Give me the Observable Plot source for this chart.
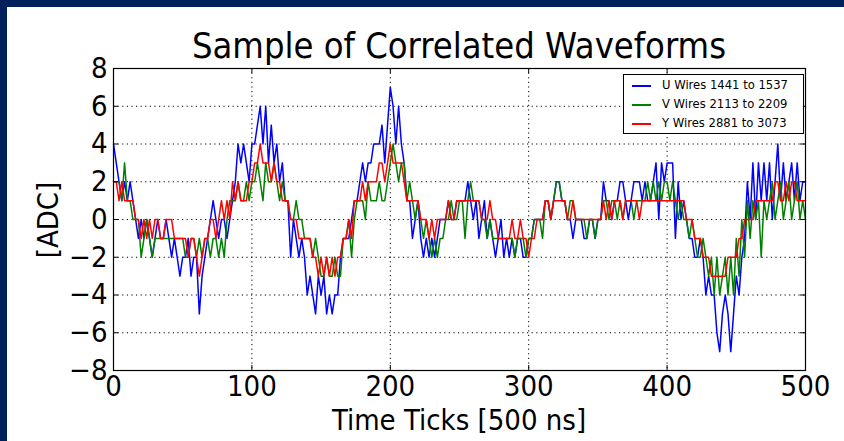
<!DOCTYPE html>
<html>
<head>
<meta charset="utf-8">
<script src="https://cdn.jsdelivr.net/npm/d3@7"></script>
<script src="https://cdn.jsdelivr.net/npm/@observablehq/plot@0.6"></script>
<style>
  html, body { margin: 0; padding: 0; background: #ffffff; }
  #wrap { position: relative; width: 844px; height: 441px; overflow: hidden; background: #ffffff; font-family: "DejaVu Sans Condensed", "DejaVu Sans", sans-serif; }
  #chart { position: absolute; left: 0; top: 0; }
  .bar { position: absolute; background: #00205c; }
  #title { position: absolute; left: 113px; width: 692px; top: 26px; text-align: center; font-size: 36px; line-height: 40px; color: #000; white-space: nowrap; }
  #xlabel { position: absolute; left: 113px; width: 692px; top: 403px; text-align: center; font-size: 29px; line-height: 34px; color: #000; white-space: nowrap; }
  #ylabel { position: absolute; left: 48px; top: 220px; transform: translate(-50%, -50%) rotate(-90deg); font-size: 29px; line-height: 34px; color: #000; white-space: nowrap; }
  #legend { position: absolute; left: 623px; top: 74px; width: 179px; height: 58px; border: 1px solid #000; background: #fff; font-family: "DejaVu Sans", sans-serif; font-size: 11.6px; color: #000; }
  .row { position: absolute; left: 0; height: 14px; }
  .swatch { position: absolute; left: 8px; top: 7px; width: 19px; height: 1.5px; }
  .ltxt { position: absolute; left: 38px; top: -1px; white-space: nowrap; line-height: 16px; }
</style>
</head>
<body>
<div id="wrap">
  <div id="chart"></div>
  <div id="title">Sample of Correlated Waveforms</div>
  <div id="xlabel">Time Ticks [500 ns]</div>
  <div id="ylabel">[ADC]</div>
  <div id="legend"></div>
  <div class="bar" style="left:0;top:0;width:844px;height:7px"></div>
  <div class="bar" style="left:0;top:0;width:7px;height:441px"></div>
</div>
<script>
// Sample times (ticks), every 2 ticks from 0 to 500
const timeTicks = d3.range(0, 501, 2);

// U wires 1441 to 1537 (blue)
const uWires = [
  4,3,2,1,2,1,2,1,0,-1,0,-1,0,-1,-2,-1,0,-1,-1,0,-1,-2,-1,-2,-3,-2,-2,-1,-3,-2,-2,-5,-3,-2,-1,0,1,0,-1,0,0,-1,0,1,2,
  4,3,4,3,2,4,4,5,6,4,6,3,5,3,4,2,3,1,1,-2,0,-1,-2,-1,-2,-4,-3,-4,-5,-3,-4,-3,-5,-4,-5,-4,-4,-2,
  -1,-1,-1,0,1,1,2,3,2,3,3,4,4,4,5,3,5,7,6,4,6,4,3,1,1,-1,0,1,-1,-2,-1,-2,-1,-2,-1,0,0,0,1,0,0,1,1,1,1,2,1,0,1,-1,0,1,-1,0,-1,-2,-1,0,-2,-1,-2,-1,-2,-1,-1,-2,-2,
  -1,-1,0,0,0,0,1,1,0,1,2,2,1,1,0,0,-1,0,0,0,-1,-1,0,0,-1,0,0,2,1,1,0,1,1,2,2,1,0,1,2,2,2,1,2,1,1,2,3,0,3,2,3,
  3,3,-1,2,0,1,0,-1,-1,-2,-2,-1,-2,-4,-3,-4,-4,-6,-7,-5,-4,-5,-7,-5,-3,-4,-2,-1,2,0,3,0,3,1,3,1,3,0,2,4,1,3,1,2,3,1,3,1,2,2
];

// V wires 2113 to 2209 (green)
const vWires = [
  2,2,2,1,3,1,1,0,0,0,-2,-1,0,-1,-2,-1,-1,-1,-1,-1,-1,-1,-1,-1,-1,-1,-2,-2,-1,-1,-2,-1,-2,-1,-1,-2,-1,-1,-2,-1,-2,0,1,1,1,
  2,1,1,2,1,2,2,3,2,1,3,2,2,3,2,1,2,1,1,0,0,1,0,0,-1,-1,-1,-2,-1,-2,-3,-3,-2,-3,-3,-2,-3,-3,
  -1,-1,0,-2,0,1,1,1,0,2,1,1,1,2,1,1,2,3,4,3,2,3,3,1,2,1,0,1,0,-1,0,-1,-2,-1,-2,-1,-1,0,0,1,0,0,1,1,-1,1,2,1,1,1,0,0,-1,0,-1,-1,-1,-1,-1,-1,-1,-1,-2,-1,-1,-1,-2,
  -1,-1,0,0,0,-1,1,1,0,1,2,2,1,1,0,1,1,0,0,0,0,-1,0,0,-1,0,0,1,1,0,1,1,0,1,0,1,1,1,0,1,1,1,1,2,1,2,1,2,1,2,2,
  1,2,1,0,1,0,0,-1,0,-1,-2,-2,-1,-2,-3,-2,-4,-2,-4,-3,-2,-4,-2,-4,-1,-3,0,-2,1,-1,1,0,1,-2,1,0,1,2,0,1,2,0,1,2,0,1,2,0,1,0
];

// Y wires 2881 to 3073 (red)
const yWires = [
  2,2,1,2,1,1,1,1,0,0,-1,0,-1,0,-1,0,0,-1,-1,0,0,0,-1,-1,-1,-1,-1,-2,-1,-1,-2,-3,-2,-1,-1,0,0,-1,0,1,0,1,0,2,1,
  2,1,1,1,2,2,3,3,4,3,3,3,2,3,2,2,1,1,1,0,0,0,-1,-1,-1,-1,-1,-2,-2,-3,-2,-3,-2,-3,-2,-3,-2,-2,
  -1,-1,0,-1,1,1,1,2,1,2,2,2,2,3,3,2,3,4,3,3,3,3,2,1,1,1,1,1,0,0,0,-1,0,-1,0,0,0,0,1,0,0,1,1,1,1,1,1,1,1,1,0,0,0,1,0,0,-1,-1,-1,-1,-1,0,-1,-1,0,-1,-1,
  -2,-1,-1,0,0,0,1,1,0,1,1,1,1,1,0,0,1,0,0,0,0,0,0,0,0,0,0,1,0,1,0,1,1,1,0,1,1,1,1,1,0,1,1,1,1,1,1,1,1,1,1,
  1,1,1,1,1,1,0,0,0,-1,-1,-1,-2,-2,-2,-3,-3,-3,-3,-3,-3,-2,-2,-2,-2,-1,-1,0,0,0,0,1,1,1,1,1,1,1,2,2,1,1,2,1,2,2,1,1,1,1
];

const seriesNames = ["U Wires 1441 to 1537", "V Wires 2113 to 2209", "Y Wires 2881 to 3073"];
const seriesColors = ["#0000ff", "#008000", "#ff0000"];
const xTickValues = [0, 100, 200, 300, 400, 500];
const yTickValues = [-8, -6, -4, -2, 0, 2, 4, 6, 8];

const allSeries = [uWires, vWires, yWires];
const lineMarks = allSeries.map((vals, k) =>
  Plot.line(vals.map((v, i) => ({t: timeTicks[i], v})), {x: "t", y: "v", stroke: seriesColors[k], strokeWidth: 1.5})
);

const W = 844, H = 441, mL = 113, mR = 39, mT = 68, mB = 71;
const plotW = W - mL - mR, plotH = H - mT - mB;

const chart = Plot.plot({
  width: W,
  height: H,
  marginLeft: mL,
  marginRight: mR,
  marginTop: mT,
  marginBottom: mB,
  style: {fontSize: "29px", fontFamily: "'DejaVu Sans Condensed', 'DejaVu Sans', sans-serif", background: "transparent", color: "#000"},
  x: {domain: [0, 500], ticks: xTickValues, tickSize: 0, tickPadding: 5, label: null},
  y: {domain: [-8, 8], ticks: yTickValues, tickSize: 0, tickPadding: 6, label: null, tickFormat: d3.format("d")},
  marks: [
    Plot.ruleX(xTickValues.slice(1, -1), {stroke: "#000", strokeDasharray: "1.2,3.4", strokeWidth: 1}),
    Plot.ruleY(yTickValues.slice(1, -1), {stroke: "#000", strokeDasharray: "1.2,3.4", strokeWidth: 1}),
    ...lineMarks,
    Plot.ruleX(xTickValues, {stroke: "#000", insetTop: plotH - 5}),
    Plot.ruleX(xTickValues, {stroke: "#000", insetBottom: plotH - 5}),
    Plot.ruleY(yTickValues, {stroke: "#000", insetRight: plotW - 5}),
    Plot.ruleY(yTickValues, {stroke: "#000", insetLeft: plotW - 5}),
    Plot.frame({stroke: "#000", strokeWidth: 1.2})
  ]
});
document.getElementById("chart").appendChild(chart);

const legend = document.getElementById("legend");
seriesNames.forEach((name, k) => {
  const row = document.createElement("div");
  row.className = "row";
  row.style.top = (3 + k * 19) + "px";
  row.style.width = "100%";
  const sw = document.createElement("div");
  sw.className = "swatch";
  sw.style.background = seriesColors[k];
  const tx = document.createElement("div");
  tx.className = "ltxt";
  tx.textContent = name;
  row.appendChild(sw);
  row.appendChild(tx);
  legend.appendChild(row);
});
</script>
</body>
</html>
